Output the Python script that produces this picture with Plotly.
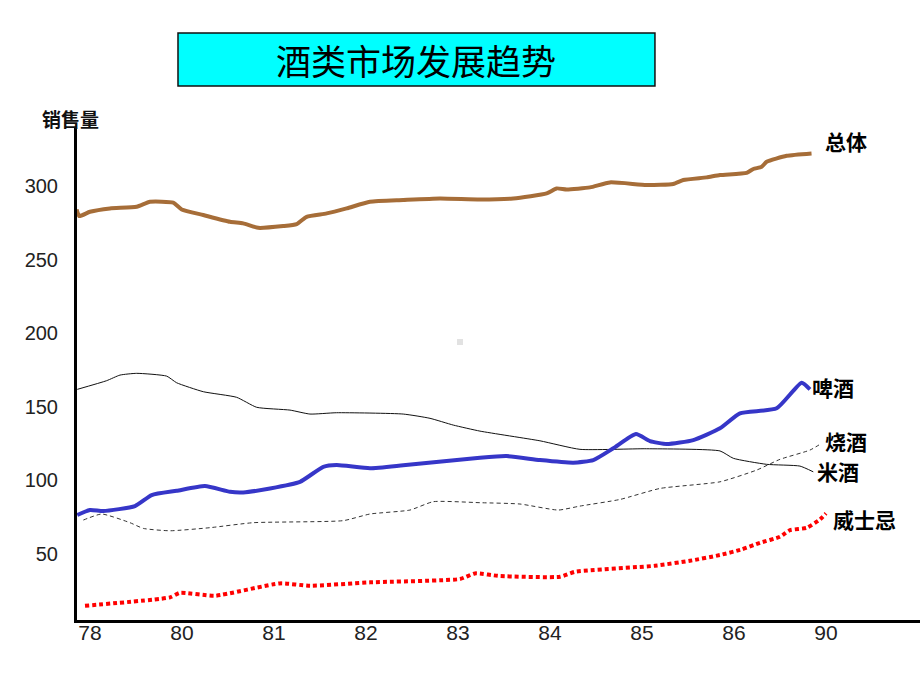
import plotly.graph_objects as go

# Category axis (equally spaced year labels)
year_labels = ["78", "80", "81", "82", "83", "84", "85", "86", "90"]
year_pos = list(range(len(year_labels)))

# Series: positions along the year axis (fractional)
total_x = [-0.145, -0.116, 0.0, 0.217, 0.508, 0.652, 0.905, 0.997, 1.232, 1.522, 1.666, 1.829,
           2.101, 2.247, 2.355, 2.573, 2.79, 3.043, 3.405, 3.804, 4.239, 4.601, 4.964, 5.072,
           5.182, 5.435, 5.652, 6.051, 6.34, 6.449, 6.703, 6.848, 7.138, 7.21, 7.301, 7.355,
           7.573, 7.843]
total_y = [284.1, 279.6, 282.5, 284.8, 285.9, 289.3, 288.7, 284.1, 280.3, 275.7, 274.6, 271.6,
           272.8, 274.1, 279.1, 281.4, 284.8, 289.3, 290.5, 291.6, 290.9, 291.6, 295.0, 298.4,
           297.7, 299.1, 302.5, 300.7, 301.4, 304.1, 305.9, 307.5, 309.0, 311.6, 313.1, 316.5,
           320.6, 322.2]

beer_x = [-0.138, 0.0, 0.145, 0.489, 0.671, 0.942, 1.25, 1.522, 1.666, 1.957, 2.283, 2.536,
          2.681, 3.043, 3.405, 4.239, 4.529, 4.891, 5.253, 5.471, 5.688, 5.935, 6.087, 6.269,
          6.558, 6.848, 7.065, 7.464, 7.736, 7.826]
beer_y = [76.2, 79.6, 78.9, 82.3, 89.8, 92.7, 95.9, 92.0, 91.6, 94.3, 98.8, 109.0,
          110.2, 108.0, 110.0, 115.2, 116.3, 113.6, 111.8, 113.6, 121.6, 131.3, 126.5, 124.5,
          127.2, 135.2, 145.4, 148.8, 166.2, 161.7]

rice_x = [-0.138, 0.181, 0.326, 0.508, 0.834, 0.942, 1.232, 1.594, 1.812, 2.174, 2.391, 2.681,
          3.405, 3.696, 3.949, 4.239, 4.891, 5.326, 6.051, 6.848, 6.993, 7.355, 7.717, 7.862]
rice_y = [161.7, 167.6, 171.4, 172.6, 170.7, 166.2, 160.1, 156.3, 149.5, 147.6, 144.9, 145.8,
          144.9, 142.0, 137.4, 133.3, 126.7, 120.9, 121.3, 119.8, 114.8, 110.7, 109.5, 105.6]

shochu_x = [-0.072, 0.127, 0.435, 0.58, 0.87, 1.304, 1.775, 2.754, 3.043, 3.478, 3.732, 4.239,
            4.674, 5.09, 5.326, 5.761, 6.196, 6.848, 7.247, 7.5, 7.826, 7.953]
shochu_y = [72.8, 76.9, 71.0, 67.1, 65.5, 67.6, 71.0, 72.4, 76.9, 79.6, 85.3, 84.6,
            83.7, 79.6, 82.3, 86.8, 94.3, 98.8, 106.8, 114.1, 120.4, 125.0]

whisky_x = [-0.054, 0.87, 0.978, 1.359, 2.065, 2.391, 3.043, 4.022, 4.185, 4.457, 5.109, 5.272,
            6.141, 6.522, 6.848, 7.083, 7.283, 7.5, 7.609, 7.79, 7.935, 8.0]
whisky_y = [14.5, 20.2, 23.3, 21.3, 29.7, 28.1, 30.4, 32.7, 36.5, 34.7, 34.2, 37.6,
            41.7, 45.1, 49.0, 52.8, 57.3, 61.4, 65.9, 67.5, 73.2, 77.3]

series_names = ["总体", "啤酒", "米酒", "烧酒", "威士忌"]
y_ticks = [50, 100, 150, 200, 250, 300]

fig = go.Figure()
fig.add_trace(go.Scatter(x=total_x, y=total_y, mode="lines", name=series_names[0],
                         line=dict(color="#A66D38", width=4, shape="spline", smoothing=0.5)))
fig.add_trace(go.Scatter(x=rice_x, y=rice_y, mode="lines", name=series_names[2],
                         line=dict(color="#111111", width=1, shape="spline", smoothing=0.5)))
fig.add_trace(go.Scatter(x=shochu_x, y=shochu_y, mode="lines", name=series_names[3],
                         line=dict(color="#333333", width=1, dash="4px,3px",
                                   shape="spline", smoothing=0.5)))
fig.add_trace(go.Scatter(x=beer_x, y=beer_y, mode="lines", name=series_names[1],
                         line=dict(color="#3636C8", width=4, shape="spline", smoothing=0.5)))
fig.add_trace(go.Scatter(x=whisky_x, y=whisky_y, mode="lines", name=series_names[4],
                         line=dict(color="#FF0000", width=4, dash="4px,3px",
                                   shape="spline", smoothing=0.5)))

# Series labels at the right end
label_font = dict(family="Noto Sans CJK SC", size=21, color="#000000")
labels = [
    (series_names[0], 7.97, 330.6),
    (series_names[1], 7.83, 163.5),
    (series_names[3], 7.97, 126.5),
    (series_names[2], 7.88, 106.0),
    (series_names[4], 8.05, 73.5),
]
for txt, lx, ly in labels:
    fig.add_annotation(x=lx, y=ly, xref="x", yref="y", text="<b>" + txt + "</b>",
                       showarrow=False, xanchor="left", yanchor="middle", font=label_font)

# Title box
fig.add_shape(type="rect", xref="paper", yref="paper", x0=0.1198, x1=0.6856, y0=1.0854, y1=1.1931,
              fillcolor="#00FFFF", line=dict(color="#111111", width=1.5), layer="above")
fig.add_annotation(xref="paper", yref="paper", x=0.4027, y=1.139, text="酒类市场发展趋势",
                   showarrow=False, xanchor="center", yanchor="middle",
                   font=dict(family="Noto Sans CJK SC", size=35, color="#000000"))

# small grey speck in the middle of the original slide
fig.add_shape(type="rect", xref="paper", yref="paper", x0=0.4508, x1=0.4579, y0=0.5589, y1=0.5711,
              fillcolor="#E2E2E2", line=dict(width=0))

# Y axis title
fig.add_annotation(xref="paper", yref="paper", x=-0.0083, y=1.0203, text="<b>销售量</b>",
                   showarrow=False, xanchor="center", yanchor="middle",
                   font=dict(family="Noto Sans CJK SC", size=19, color="#111111"))

fig.update_layout(
    width=920, height=690,
    margin=dict(l=77, r=0, t=128, b=70),
    paper_bgcolor="white", plot_bgcolor="white",
    showlegend=False,
    xaxis=dict(range=[-0.141, 9.022], tickvals=year_pos, ticktext=year_labels,
               showgrid=False, zeroline=False, showline=True, linecolor="#000000", linewidth=3,
               ticks="", ticklabelstandoff=-8,
               tickfont=dict(family="Liberation Sans", size=21, color="#222222")),
    yaxis=dict(range=[4.8, 339.5], tickvals=y_ticks,
               showgrid=False, zeroline=False, showline=True, linecolor="#000000", linewidth=3,
               ticks="", ticklabelstandoff=12,
               tickfont=dict(family="Liberation Sans", size=20, color="#222222")),
)

fig.write_html("out.html")
